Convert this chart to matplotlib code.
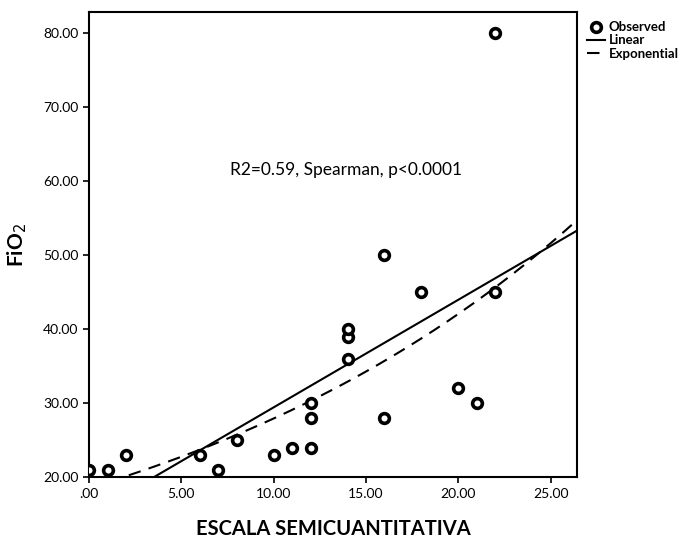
import numpy as np
import matplotlib.pyplot as plt

plt.rcParams['font.family'] = ['Lato', 'DejaVu Sans']

# Data
escala = [0, 1, 2, 6, 7, 8, 10, 11, 12, 12, 12, 14, 14, 14, 16, 16, 18, 20, 21, 22, 22]
fio2 = [21, 21, 23, 23, 21, 25, 23, 24, 24, 28, 30, 36, 39, 40, 50, 28, 45, 32, 30, 45, 80]

x = np.array(escala, dtype=float)
y = np.array(fio2, dtype=float)

# Fits (linear and exponential via log-linear regression)
b1, b0 = np.polyfit(x, y, 1)
eb, ea = np.polyfit(x, np.log(y), 1)
xs = np.linspace(0, 26.5, 300)
y_lin = b0 + b1 * xs
y_exp = np.exp(ea) * np.exp(eb * xs)

fig = plt.figure(figsize=(6.8, 5.41), dpi=100)
ax = fig.add_axes([0.131, 0.118, 0.718, 0.86])

ax.plot(x, y, 'o', markersize=7, markerfacecolor='white', markeredgecolor='black',
        markeredgewidth=2.6, linestyle='none', label='Observed', zorder=3)
ax.plot(xs, y_lin, color='black', linewidth=1.5, label='Linear')
ax.plot(xs, y_exp, color='black', linewidth=1.5, linestyle=(0, (6, 4)), label='Exponential')

ax.set_xlim(0, 26.45)
ax.set_ylim(20, 82.9)
ax.set_xticks([0, 5, 10, 15, 20, 25])
ax.set_xticklabels(['.00', '5.00', '10.00', '15.00', '20.00', '25.00'])
ax.set_yticks([20, 30, 40, 50, 60, 70, 80])
ax.set_yticklabels(['20.00', '30.00', '40.00', '50.00', '60.00', '70.00', '80.00'])
ax.tick_params(labelsize=10, length=4, width=1.2)
for s in ax.spines.values():
    s.set_linewidth(1.5)

ax.set_xlabel('ESCALA SEMICUANTITATIVA', fontsize=14.5, fontweight='bold', labelpad=14)
ax.set_ylabel('FiO$_2$', fontsize=15, fontweight='bold', labelpad=10)

ax.text(13.9, 61.5, 'R2=0.59, Spearman, p<0.0001', fontsize=12.5, ha='center', va='center')

ax.legend(loc='upper left', bbox_to_anchor=(1.0, 1.0), frameon=False,
          handlelength=1.4, handletextpad=0.3, labelspacing=0.1, borderaxespad=0.3,
          prop={'weight': 'bold', 'size': 9.5})

fig.savefig('out.png', dpi=100)
